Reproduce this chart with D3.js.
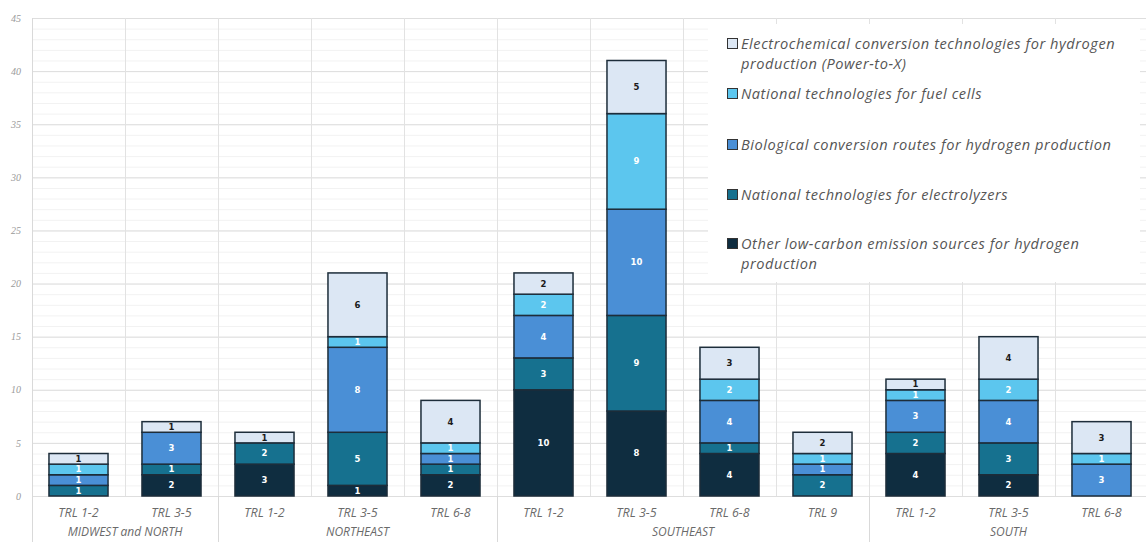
<!DOCTYPE html>
<html><head><meta charset="utf-8">
<script src="https://cdn.jsdelivr.net/npm/d3@7"></script>
<style>body{margin:0;background:#fff}svg{display:block}</style>
</head><body><svg id="c" width="1146" height="542"></svg>
<script>
const regions = ["MIDWEST and NORTH","MIDWEST and NORTH","NORTHEAST","NORTHEAST","NORTHEAST","SOUTHEAST","SOUTHEAST","SOUTHEAST","SOUTHEAST","SOUTH","SOUTH","SOUTH"];
const trl = ["TRL 1-2","TRL 3-5","TRL 1-2","TRL 3-5","TRL 6-8","TRL 1-2","TRL 3-5","TRL 6-8","TRL 9","TRL 1-2","TRL 3-5","TRL 6-8"];
const otherLowCarbon = [0,2,3,1,2,10,8,4,0,4,2,0];
const electrolyzers   = [1,1,2,5,1,3,9,1,2,2,3,0];
const biological      = [1,3,0,8,1,4,10,4,1,3,4,3];
const fuelCells       = [1,0,0,1,1,2,9,2,1,1,2,1];
const electrochemical = [1,1,1,6,4,2,5,3,2,1,4,3];
const seriesNames = ["Other low-carbon emission sources for hydrogen production","National technologies for electrolyzers","Biological conversion routes for hydrogen production","National technologies for fuel cells","Electrochemical conversion technologies for hydrogen production (Power-to-X)"];
const yTicks = [0,5,10,15,20,25,30,35,40,45];

const colors = ["#0f2d40","#16718f","#4a8fd6","#5cc6ee","#dce7f4"];
const labelColors = ["#ffffff","#ffffff","#ffffff","#ffffff","#1a1a1a"];
const seriesVals = [otherLowCarbon, electrolyzers, biological, fuelCells, electrochemical];

const svg = d3.select("#c");
const W = 1146, H = 542;
const x = d3.scaleBand().domain(d3.range(trl.length)).range([32,1148]).paddingInner(0.365).paddingOuter(0.1825);
const y = d3.scaleLinear().domain([0,45]).range([496,18]);
const step = x.step();

// grid
const g = svg.append("g");
g.selectAll("line.minor").data(d3.range(0,46)).join("line")
  .attr("x1",32).attr("x2",W).attr("y1",d=>y(d)+0.5).attr("y2",d=>y(d)+0.5)
  .attr("stroke","#f2f2f2").attr("stroke-width",1);
g.selectAll("line.major").data(yTicks).join("line")
  .attr("x1",32).attr("x2",W).attr("y1",d=>y(d)+0.5).attr("y2",d=>y(d)+0.5)
  .attr("stroke","#dedede").attr("stroke-width",1);
const vb = d3.range(trl.length+1).map(i => x.range()[0] + i*step);
g.selectAll("line.v").data(vb).join("line")
  .attr("x1",d=>Math.round(d)+0.5).attr("x2",d=>Math.round(d)+0.5).attr("y1",y(45)).attr("y2",y(0))
  .attr("stroke","#e2e2e2");
const groupBreaks = [];
for (let i=1;i<regions.length;i++) if (regions[i]!==regions[i-1]) groupBreaks.push(i);
g.selectAll("line.gb").data(groupBreaks).join("line")
  .attr("x1",i=>Math.round(x.range()[0]+i*step)+0.5).attr("x2",i=>Math.round(x.range()[0]+i*step)+0.5)
  .attr("y1",y(0)).attr("y2",H).attr("stroke","#d9d9d9");
g.append("line").attr("x1",32.5).attr("x2",32.5).attr("y1",y(45)).attr("y2",H).attr("stroke","#d9d9d9");

// y axis
const ya = svg.append("g").attr("transform","translate(21,0)")
  .call(d3.axisLeft(y).tickValues(yTicks).tickSize(0).tickPadding(0));
ya.select(".domain").remove();
ya.selectAll("text").attr("font-family","Liberation Serif, serif").attr("font-style","italic").attr("font-size",10).attr("fill","#9a9a9a");

// stacked bars
const rows = trl.map((t,i)=>{const r={i}; seriesVals.forEach((s,k)=>r["s"+k]=s[i]); return r;});
const keys = seriesVals.map((s,k)=>"s"+k);
const stacked = d3.stack().keys(keys)(rows);
const bars = svg.append("g");
stacked.forEach((layer,k)=>{
  const lg = bars.append("g");
  lg.selectAll("rect").data(layer.filter(d=>d[1]-d[0]>0)).join("rect")
    .attr("x",d=>x(d.data.i)).attr("width",x.bandwidth())
    .attr("y",d=>y(d[1])).attr("height",d=>y(d[0])-y(d[1]))
    .attr("fill",colors[k]).attr("stroke","#1d2d3a").attr("stroke-width",1.5);
  lg.selectAll("text").data(layer.filter(d=>d[1]-d[0]>0)).join("text")
    .attr("x",d=>x(d.data.i)+x.bandwidth()/2).attr("y",d=>(y(d[0])+y(d[1]))/2)
    .attr("dy","0.35em").attr("text-anchor","middle")
    .attr("font-family","DejaVu Sans, sans-serif").attr("font-weight","bold").attr("font-size",8.5)
    .attr("fill",labelColors[k]).text(d=>d[1]-d[0]);
});

// x labels
const xl = svg.append("g");
xl.selectAll("text").data(trl).join("text")
  .attr("x",(d,i)=>x(i)+x.bandwidth()/2).attr("y",517).attr("text-anchor","middle")
  .attr("font-family","Open Sans, sans-serif").attr("font-style","italic").attr("font-size",12.5)
  .attr("fill","#6a6a6a").text(d=>d);
const groups = [];
regions.forEach((r,i)=>{ if(!groups.length||groups[groups.length-1].name!==r) groups.push({name:r,first:i,last:i}); else groups[groups.length-1].last=i; });
xl.selectAll("text.grp").data(groups).join("text").attr("class","grp")
  .attr("x",d=>(x(d.first)+x(d.last)+x.bandwidth())/2).attr("y",536).attr("text-anchor","middle")
  .attr("font-family","Open Sans, sans-serif").attr("font-style","italic").attr("font-size",12)
  .attr("fill","#6a6a6a").text(d=>d.name);

// legend
const lg = svg.append("g");
lg.append("rect").attr("x",708).attr("y",24).attr("width",432).attr("height",258).attr("fill","#fff");
const legendItems = [
  {k:4, lines:["Electrochemical conversion technologies for hydrogen","production (Power-to-X)"], y:44},
  {k:3, lines:["National technologies for fuel cells"], y:94},
  {k:2, lines:["Biological conversion routes for hydrogen production"], y:145},
  {k:1, lines:["National technologies for electrolyzers"], y:195},
  {k:0, lines:["Other low-carbon emission sources for hydrogen","production"], y:244}
];
legendItems.forEach(it=>{
  lg.append("rect").attr("x",727.5).attr("y",it.y-5.5).attr("width",10).attr("height",10)
    .attr("fill",colors[it.k]).attr("stroke","#333").attr("stroke-width",1);
  const t = lg.append("text").attr("x",741).attr("y",it.y).attr("dy","0.35em")
    .attr("font-family","Open Sans, sans-serif").attr("font-style","italic").attr("font-size",14.6)
    .attr("letter-spacing",0.55).attr("fill","#555");
  it.lines.forEach((l,j)=>t.append("tspan").attr("x",741).attr("dy",j?"1.35em":null).text(l));
});
</script></body></html>
